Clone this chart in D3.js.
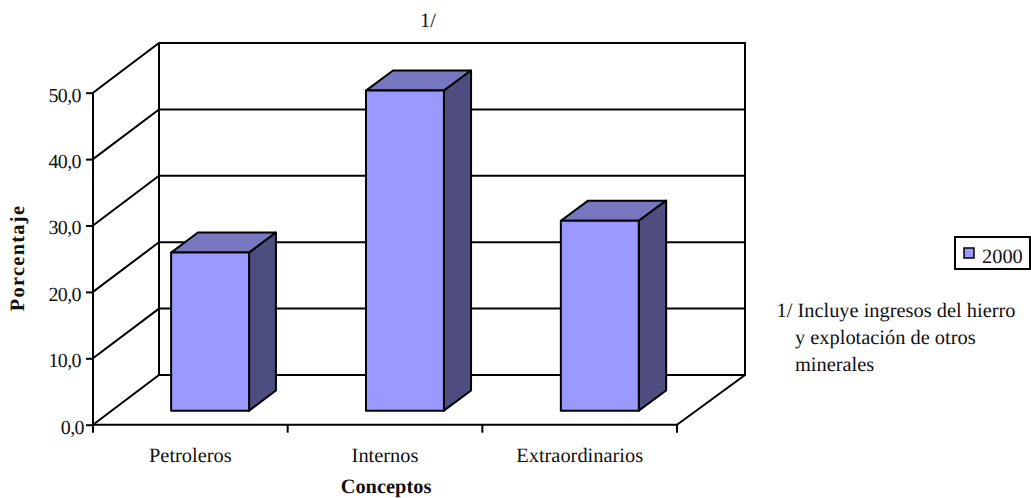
<!DOCTYPE html>
<html>
<head>
<meta charset="utf-8">
<script src="https://cdn.jsdelivr.net/npm/d3@7"></script>
<style>
  html, body { margin: 0; padding: 0; background: #fff; }
  svg { display: block; }
  text { font-family: "Liberation Serif", serif; fill: #111; text-rendering: geometricPrecision; }
</style>
</head>
<body>
<div id="chart"></div>
<script>
const categories = ['Petroleros', 'Internos', 'Extraordinarios'];
const values = [23.8, 48.2, 28.6];
const yTicks = [0, 10, 20, 30, 40, 50];
const seriesName = '2000';
const noteLines = ['1/ Incluye ingresos del hierro', 'y explotación de otros', 'minerales'];

const W = 1031, H = 498;
const svg = d3.select('#chart').append('svg').attr('width', W).attr('height', H);

const x = d3.scaleBand().domain(categories).range([93, 677]);
const y = d3.scaleLinear().domain([0, 50]).range([424.7, 92.7]);

// front edge of the floor maps onto the back wall, which is a bit wider
const backX = d3.scaleLinear().domain([93, 677]).range([159, 745]);
const depthY = d3.scaleLinear().domain([0, 1]).range([0, -49.7]);
const at = (px, val, d) => [px + d * (backX(px) - px), y(val) + depthY(d)];

const stroke = '#000', sw = 2;
const fontSize = 20.4;
const line = d3.line();
const poly = pts => line(pts) + 'Z';

const x0 = x.range()[0], x1 = x.range()[1];

// walls and floor
const walls = svg.append('g').attr('fill', 'none').attr('stroke', stroke).attr('stroke-width', sw);
walls.append('path').attr('d', line([at(x0, 50, 1), at(x1, 50, 1), at(x1, 0, 1), at(x1, 0, 0)]));
walls.append('path').attr('d', line([at(x0, 0, 1), at(x0, 50, 1)]));

// gridlines on the back and side wall
walls.selectAll('.grid')
  .data(yTicks)
  .join('path')
  .attr('class', 'grid')
  .attr('d', d => line([at(x0, d, 0), at(x0, d, 1), at(x1, d, 1)]));

// bars
const barW = x.bandwidth() * 0.4;
const d0 = 0.283, d1 = 0.687;
const barShift = 1;
const bars = svg.append('g').attr('stroke', stroke).attr('stroke-width', sw).attr('stroke-linejoin', 'round');

categories.forEach((c, i) => {
  const left = x(c) + (x.bandwidth() - barW) / 2 + barShift;
  const right = left + barW;
  const v = values[i];
  bars.append('path').attr('fill', '#7777bf')
    .attr('d', poly([at(left, v, d0), at(right, v, d0), at(right, v, d1), at(left, v, d1)]));
  bars.append('path').attr('fill', '#4d4d80')
    .attr('d', poly([at(right, 0, d0), at(right, v, d0), at(right, v, d1), at(right, 0, d1)]));
  bars.append('path').attr('fill', '#9999ff')
    .attr('d', poly([at(left, 0, d0), at(right, 0, d0), at(right, v, d0), at(left, v, d0)]));
});

// axes
const yAxis = d3.axisLeft(y).tickValues(yTicks).tickSize(7).tickPadding(5)
  .tickFormat(d => d3.format('.1f')(d).replace('.', ','));
const gy = svg.append('g').attr('transform', `translate(${x0},0)`).call(yAxis);
gy.selectAll('path,line').attr('stroke', stroke).attr('stroke-width', sw);
gy.selectAll('path').attr('d', `M0,${y(50)}V${y(0) + 6}`);
gy.selectAll('text')
  .attr('font-size', 20).attr('font-family', '"Liberation Serif", serif')
  .attr('letter-spacing', -0.6)
  .attr('dy', '0.42em')
  .attr('dx', d => d === 0 ? 3 : 0);

const xAxis = d3.axisBottom(x).tickSize(0).tickPadding(21);
const gx = svg.append('g').attr('transform', `translate(0,${y(0)})`).call(xAxis);
gx.selectAll('path').attr('stroke', stroke).attr('stroke-width', sw).attr('d', `M${x0},0H${x1}`);
gx.selectAll('text').attr('font-size', fontSize).attr('font-family', '"Liberation Serif", serif')
  .attr('y', 37).attr('dy', 0);
gx.selectAll('.sep')
  .data(d3.range(categories.length + 1))
  .join('line')
  .attr('class', 'sep')
  .attr('x1', i => x0 + i * x.step()).attr('x2', i => x0 + i * x.step())
  .attr('y1', 0).attr('y2', 8)
  .attr('stroke', stroke).attr('stroke-width', sw);

// titles
svg.append('text').attr('x', 428).attr('y', 27).attr('text-anchor', 'middle').attr('font-size', fontSize).text('1/');
svg.append('text').attr('x', 386).attr('y', 493).attr('text-anchor', 'middle').attr('font-size', fontSize)
  .attr('font-weight', 'bold').text('Conceptos');
svg.append('text').attr('transform', 'translate(24,258) rotate(-90)').attr('text-anchor', 'middle')
  .attr('font-size', fontSize).attr('font-weight', 'bold').attr('letter-spacing', 1.3).text('Porcentaje');

// legend
const legend = svg.append('g');
legend.append('rect').attr('x', 955).attr('y', 237).attr('width', 75).attr('height', 32)
  .attr('fill', '#fff').attr('stroke', stroke).attr('stroke-width', sw);
legend.append('rect').attr('x', 964).attr('y', 248).attr('width', 10).attr('height', 10)
  .attr('fill', '#9999ff').attr('stroke', stroke).attr('stroke-width', 1.5);
legend.append('text').attr('x', 982).attr('y', 262.5).attr('font-size', fontSize).text(seriesName);

// note
svg.append('g').selectAll('text')
  .data(noteLines)
  .join('text')
  .attr('x', (d, i) => i === 0 ? 776.5 : 795)
  .attr('y', (d, i) => 316.5 + i * 27.3)
  .attr('font-size', fontSize)
  .text(d => d);
</script>
</body>
</html>
